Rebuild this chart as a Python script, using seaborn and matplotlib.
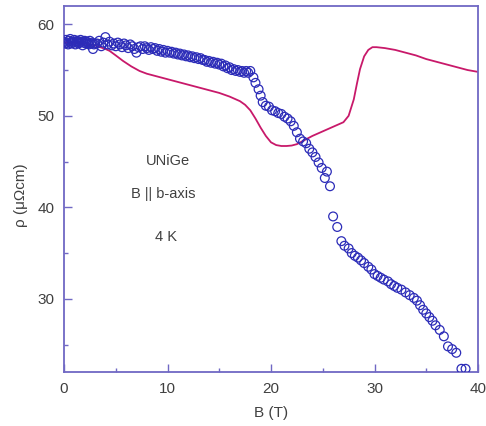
import numpy as np
import pandas as pd
import matplotlib
matplotlib.use("Agg")
import matplotlib.pyplot as plt
import seaborn as sns
from matplotlib.ticker import MultipleLocator

# Measured resistivity (open circles), B in tesla, rho in micro-ohm cm
field_meas = [
    0.0, 0.1, 0.2, 0.3, 0.4, 0.5, 0.6, 0.7, 0.8, 0.9,
    1.0, 1.1, 1.2, 1.3, 1.4, 1.5, 1.6, 1.7, 1.8, 1.9,
    2.0, 2.1, 2.2, 2.3, 2.4, 2.5, 2.6, 2.7, 2.8, 2.9,
    3.0, 3.2, 3.4, 3.6, 3.8, 4.0, 4.2, 4.4, 4.6, 4.8,
    5.0, 5.2, 5.4, 5.6, 5.8, 6.0, 6.2, 6.4, 6.6, 6.8,
    7.0, 7.2, 7.4, 7.6, 7.8, 8.0, 8.2, 8.4, 8.6, 8.8,
    9.0, 9.2, 9.4, 9.6, 9.8, 10.0, 10.2, 10.4, 10.6, 10.8,
    11.0, 11.2, 11.4, 11.6, 11.8, 12.0, 12.2, 12.4, 12.6, 12.8,
    13.0, 13.2, 13.4, 13.6, 13.8, 14.0, 14.2, 14.4, 14.6, 14.8,
    15.0, 15.2, 15.4, 15.6, 15.8, 16.0, 16.2, 16.4, 16.6, 16.8,
    17.0, 17.2, 17.4, 17.6, 17.8, 18.0,
    18.3, 18.5, 18.8, 19.0, 19.2, 19.5, 19.8, 20.1, 20.4, 20.7,
    21.0, 21.3, 21.6, 21.9, 22.2, 22.5, 22.8, 23.1, 23.4, 23.7,
    24.0, 24.3, 24.6, 24.9, 25.2, 25.4, 25.7, 26.0, 26.4, 26.8,
    27.1, 27.5, 27.8, 28.1, 28.4, 28.7, 29.0, 29.4, 29.7, 30.0,
    30.3, 30.6, 30.9, 31.3, 31.6, 31.9, 32.2, 32.6, 33.0, 33.4,
    33.8, 34.1, 34.4, 34.7, 35.0, 35.3, 35.6, 35.9, 36.3, 36.7,
    37.1, 37.5, 37.9, 38.4, 38.8,
]
rho_meas = [
    58.1, 57.9, 58.3, 58.0, 57.8, 58.2, 58.4, 57.9, 58.1, 58.0,
    58.3, 57.8, 58.1, 58.2, 57.9, 58.0, 58.3, 58.1, 57.7, 58.0,
    58.2, 57.9, 58.1, 58.0, 57.8, 58.2, 57.9, 58.0, 57.3, 57.8,
    57.9, 57.9, 58.2, 57.6, 58.0, 58.6, 57.8, 58.1, 57.7, 57.9,
    57.6, 58.0, 57.8, 57.5, 57.9, 57.7, 57.4, 57.8, 57.6, 57.3,
    56.9, 57.5, 57.6, 57.3, 57.6, 57.4, 57.2, 57.5, 57.3, 57.4,
    57.1, 57.3, 57.0, 57.2, 56.9, 57.1, 56.9, 57.0, 56.8, 56.9,
    56.7, 56.8, 56.6, 56.7, 56.5, 56.6, 56.4, 56.5, 56.3, 56.4,
    56.2, 56.3, 56.1, 56.1, 55.9, 56.0, 55.8, 55.9, 55.7, 55.8,
    55.6, 55.7, 55.4, 55.5, 55.2, 55.3, 55.0, 55.1, 54.9, 55.0,
    54.8, 54.9, 54.7, 54.9, 54.7, 54.9,
    54.2, 53.6, 52.9, 52.2, 51.5, 51.1, 51.0, 50.6, 50.5, 50.3,
    50.2, 49.9, 49.7, 49.4, 48.9, 48.2, 47.5, 47.2, 47.0, 46.4,
    46.0, 45.5, 44.9, 44.3, 43.2, 43.9, 42.3, 39.0, 37.85, 36.3,
    35.8, 35.5, 35.0, 34.7, 34.5, 34.2, 33.9, 33.5, 33.2, 32.7,
    32.5, 32.3, 32.1, 31.9, 31.6, 31.4, 31.2, 31.0, 30.7, 30.4,
    30.1, 29.8, 29.3, 28.8, 28.4, 28.0, 27.6, 27.1, 26.6, 25.9,
    24.8, 24.5, 24.1, 22.35, 22.35,
]

# Calculated curve (solid line)
field_calc = [
    0.0, 1.0, 2.0, 3.0, 4.0, 4.4, 5.0, 5.7, 6.5, 7.3,
    8.0, 9.0, 10.0, 11.0, 12.0, 13.0, 14.0, 15.0, 16.0, 17.0,
    17.5, 18.0, 18.5, 19.0, 19.5, 20.0, 20.5, 21.0, 21.5, 22.0,
    22.5, 23.0, 23.5, 24.0, 25.0, 26.0, 27.0, 27.5, 28.0, 28.3,
    28.6, 29.0, 29.4, 29.8, 30.2, 31.0, 32.0, 33.0, 34.0, 35.0,
    36.0, 37.0, 38.0, 39.0, 40.0,
]
rho_calc = [
    58.0, 58.0, 57.9, 57.7, 57.3, 57.1, 56.6, 56.0, 55.4, 54.9,
    54.6, 54.3, 54.0, 53.7, 53.4, 53.1, 52.8, 52.5, 52.1, 51.6,
    51.2, 50.6, 49.7, 48.7, 47.8, 47.1, 46.8, 46.7, 46.7, 46.75,
    46.9, 47.2, 47.5, 47.8, 48.3, 48.8, 49.3, 50.0, 51.8, 53.5,
    55.1, 56.5, 57.2, 57.5, 57.5, 57.4, 57.2, 56.9, 56.6, 56.2,
    55.9, 55.6, 55.3, 55.0, 54.8,
]

annotations = ["UNiGe", "B || b-axis", "4 K"]
annot_x = [10.05, 9.6, 9.85]
annot_y = [45.1, 41.4, 36.8]

meas = pd.DataFrame({"B": field_meas, "rho": rho_meas})
calc = pd.DataFrame({"B": field_calc, "rho": rho_calc})

sns.set_theme(style="white")
plt.rcParams["font.family"] = ["Liberation Sans", "DejaVu Sans"]

spine_col = "#7068c4"
text_col = "#404040"
line_col = "#c8196a"
mark_col = "#2c2cb8"

fig = plt.figure(figsize=(4.86, 4.26), dpi=100)
ax = fig.add_axes([64 / 486, 1 - 372 / 426, 414 / 486, 366 / 426])

sns.lineplot(data=calc, x="B", y="rho", ax=ax, color=line_col, lw=1.3,
             sort=False, zorder=2)
sns.scatterplot(data=meas, x="B", y="rho", ax=ax, marker="o", s=40,
                facecolors="none", edgecolor=mark_col, linewidth=0.9,
                zorder=3, clip_on=True)

ax.set_xlim(0, 40)
ax.set_ylim(22, 62)
ax.xaxis.set_major_locator(MultipleLocator(10))
ax.xaxis.set_minor_locator(MultipleLocator(5))
ax.yaxis.set_major_locator(MultipleLocator(10))
ax.yaxis.set_minor_locator(MultipleLocator(5))

ax.tick_params(which="both", direction="in", color=spine_col, width=1.0,
               top=False, right=False, bottom=True, left=True)
ax.tick_params(which="major", length=6, labelsize=11, labelcolor=text_col, pad=7)
ax.tick_params(which="minor", length=3)

for sp in ax.spines.values():
    sp.set_color(spine_col)
    sp.set_linewidth(1.3)

ax.set_xlabel("B (T)", fontsize=11, color=text_col)
ax.set_ylabel("ρ (μΩcm)", fontsize=11, color=text_col)
ax.xaxis.set_label_coords(0.500, -0.093)
ax.yaxis.set_label_coords(-0.087, 0.484)

for txt, tx, ty in zip(annotations, annot_x, annot_y):
    ax.text(tx, ty, txt, ha="center", va="center", fontsize=10.5, color=text_col)

fig.savefig("out.png", dpi=100)
